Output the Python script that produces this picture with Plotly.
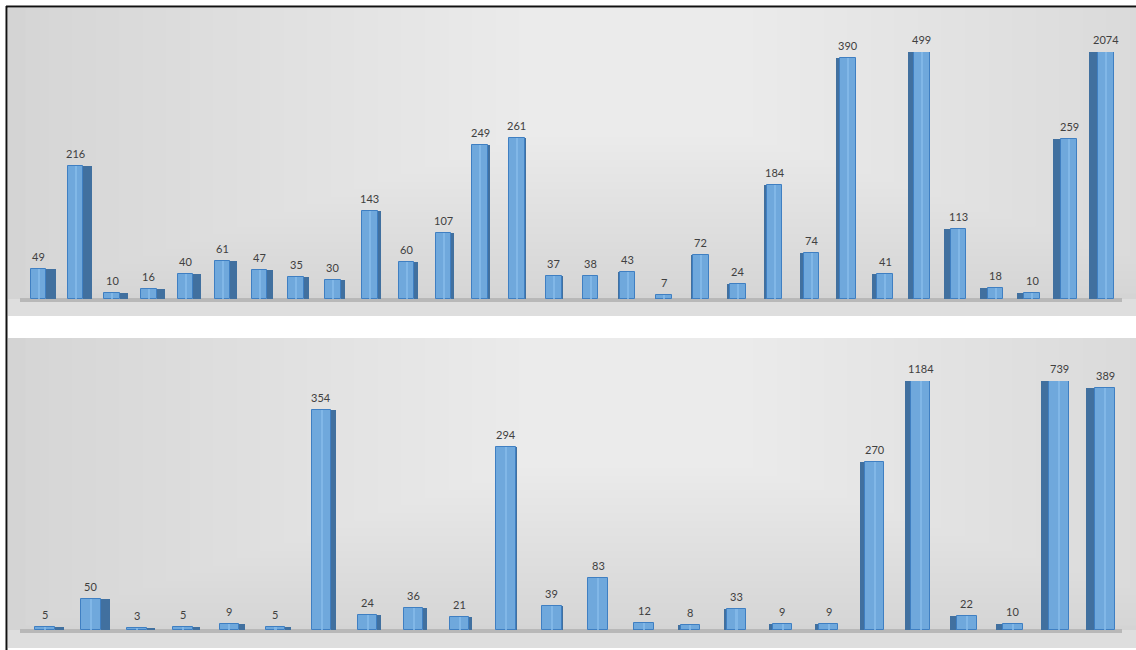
"""Two-panel pseudo-3D column chart, recreated with Plotly."""

import numpy as np
import plotly.graph_objects as go

# ---- data -------------------------------------------------------------
TOP_VALUES = [49, 216, 10, 16, 40, 61, 47, 35, 30, 143, 60, 107, 249, 261, 37,
              38, 43, 7, 72, 24, 184, 74, 390, 41, 499, 113, 18, 10, 259, 2074]
BOTTOM_VALUES = [5, 50, 3, 5, 9, 5, 354, 24, 36, 21, 294, 39, 83, 12, 8, 33,
                 9, 9, 270, 1184, 22, 10, 739, 389]

Y_CAP = 400  # value axis stops here, taller columns are cut off

# ---- style ------------------------------------------------------------
W, H = 1136, 650
FRONT = "#6fa8dc"
FRONT_EDGE = "#3f7fc2"
HILITE = "#86bbea"
SIDE = "#41709f"
LABEL = "#404040"
FONT = "Lato, 'Open Sans', sans-serif"


def px_x(p):
    return p / W


def px_y(p):
    return 1 - p / H


# panel boxes in pixels: (top, baseline, bottom), x range of category axis
PANELS = [
    dict(values=TOP_VALUES, top=8, base=299, cap=52, bottom=316, xr=[-0.83, 29.82]),
    dict(values=BOTTOM_VALUES, top=338, base=630, cap=381, bottom=648, xr=[-0.80, 23.67]),
]

FRONT_W = 0.42
SIDE_K = 0.018

fig = go.Figure()
shapes = []
annotations = []

for n, p in enumerate(PANELS, start=1):
    vals = np.array(p["values"])
    idx = np.arange(len(vals))
    mid = 0.517 * (len(vals) - 1)
    side_w = SIDE_K * np.abs(idx - mid)
    side_off = np.where(idx < mid, FRONT_W / 2, -FRONT_W / 2 - side_w)
    xa = "x" if n == 1 else "x2"
    ya = "y" if n == 1 else "y2"

    fig.add_trace(go.Bar(
        x=idx, y=vals, width=side_w, offset=side_off, xaxis=xa, yaxis=ya,
        marker=dict(color=SIDE, line=dict(width=0)), hoverinfo="skip",
    ))
    fig.add_trace(go.Bar(
        x=idx, y=vals, width=FRONT_W, offset=-FRONT_W / 2, xaxis=xa, yaxis=ya,
        marker=dict(color=FRONT, line=dict(color=FRONT_EDGE, width=1)),
        hovertemplate="%{y}<extra></extra>",
    ))
    # soft vertical highlight on the front face
    fig.add_trace(go.Bar(
        x=idx, y=vals, width=FRONT_W * 0.08, offset=-FRONT_W * 0.02, xaxis=xa, yaxis=ya,
        marker=dict(color=HILITE, line=dict(width=0)), opacity=0.8, hoverinfo="skip",
    ))
    for i, v in zip(idx, vals):
        annotations.append(dict(
            x=int(i), y=float(min(v, Y_CAP)), xref=xa, yref=ya, text=str(v),
            showarrow=False, yanchor="bottom", yshift=4,
            font=dict(family=FONT, size=11, color=LABEL),
        ))

    x0, x1 = px_x(8), 1.0
    y_top, y_bot = px_y(p["top"]), px_y(p["bottom"])
    y_base = px_y(p["base"])
    # panel background: grey, brightening towards the upper centre
    shapes.append(dict(type="rect", xref="paper", yref="paper", x0=x0, x1=x1,
                       y0=y_bot, y1=y_top, fillcolor="#d0d0d0", line_width=0, layer="below"))
    steps = 28
    for k in range(1, steps + 1):
        f = 1 - k / (steps + 1)
        cx = 0.56
        shapes.append(dict(type="rect", xref="paper", yref="paper",
                           x0=max(x0, cx - 0.6 * f), x1=min(x1, cx + 0.6 * f),
                           y0=y_top - (y_top - y_bot) * (0.3 + 0.7 * f), y1=y_top,
                           fillcolor="white", opacity=0.046, line_width=0, layer="below"))
    # floor strip and its shadow line
    shapes.append(dict(type="rect", xref="paper", yref="paper", x0=x0, x1=x1,
                       y0=y_bot, y1=y_base, fillcolor="#dedede", line_width=0, layer="below"))
    shapes.append(dict(type="rect", xref="paper", yref="paper", x0=px_x(20), x1=px_x(1122),
                       y0=y_base - 3 / H, y1=y_base + 1 / H, fillcolor="#b8b8b8",
                       line_width=0, layer="below"))

    dom_y = [px_y(p["base"]), px_y(p["cap"])]
    axis_x = dict(domain=[px_x(8), 1.0], range=p["xr"], visible=False, fixedrange=True)
    axis_y = dict(domain=dom_y, range=[0, Y_CAP], visible=False, fixedrange=True)
    if n == 1:
        fig.update_layout(xaxis=axis_x, yaxis=axis_y)
    else:
        fig.update_layout(xaxis2=dict(axis_x, anchor="y2"), yaxis2=dict(axis_y, anchor="x2"))

# outer frame: dark rule along the left and top edge
shapes.append(dict(type="line", xref="paper", yref="paper", x0=px_x(6.5), x1=px_x(6.5),
                   y0=0, y1=px_y(6), line=dict(color="#111111", width=2)))
shapes.append(dict(type="line", xref="paper", yref="paper", x0=px_x(6), x1=1,
                   y0=px_y(6.5), y1=px_y(6.5), line=dict(color="#111111", width=2)))

fig.update_layout(
    width=W, height=H,
    margin=dict(l=0, r=0, t=0, b=0),
    paper_bgcolor="white",
    plot_bgcolor="rgba(0,0,0,0)",
    barmode="overlay",
    bargap=0,
    showlegend=False,
    shapes=shapes,
    annotations=annotations,
    font=dict(family=FONT),
)

# drop the browser's default page margin so the figure sits at (0, 0)
fig.write_html("out.html", config=dict(displayModeBar=False),
               post_script="document.body.style.margin='0';")
